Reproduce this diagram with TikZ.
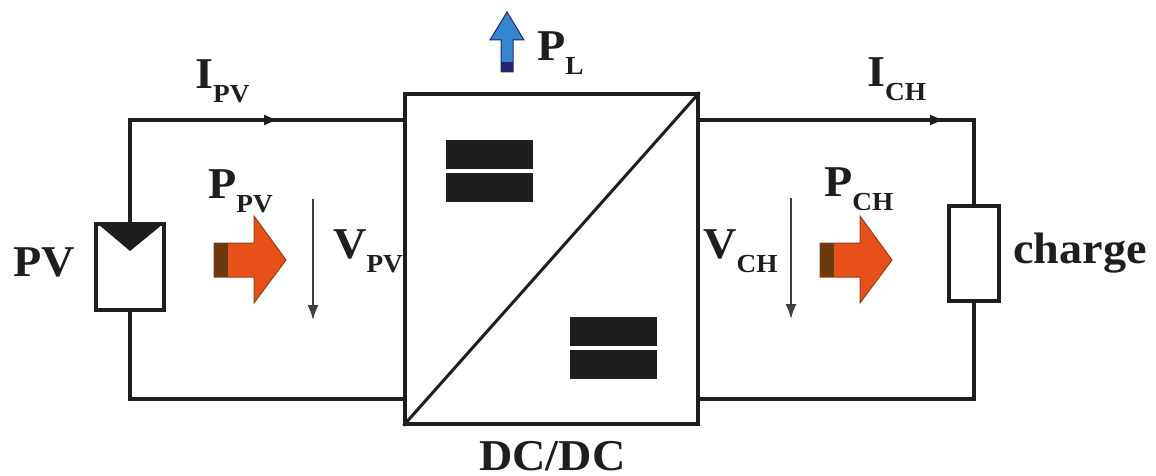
\documentclass[tikz,border=0pt]{standalone}
\usepackage{fontspec}
\usepackage{xcolor}
\setmainfont{Liberation Serif}[FakeStretch=1.05]
\usetikzlibrary{arrows.meta}
\definecolor{ink}{HTML}{1E1E1C}
\definecolor{hot}{HTML}{E8501A}
\definecolor{hotdark}{HTML}{6B3A10}
\definecolor{cool}{HTML}{3586CC}
\definecolor{cooldark}{HTML}{25256E}
\newcommand{\lab}[2]{#1\raisebox{-14pt}{\fontsize{26}{26}\selectfont #2}}
\tikzset{
  wire/.style={draw=ink,line width=3.1pt},
  box/.style={draw=ink,line width=3.1pt,fill=white,inner sep=0pt},
  txt/.style={anchor=base west,inner sep=0pt,text=ink,font=\fontsize{44}{44}\selectfont\bfseries},
  plate/.style={fill=ink,inner sep=0pt,minimum width=87pt},
  curtip/.style={-{Latex[length=16pt,width=11pt]}},
  voltip/.style={draw=ink!85,line width=1.6pt,-{Latex[length=15pt,width=11pt]}}
}
\begin{document}
\begin{tikzpicture}[x=1pt,y=-1pt]
\useasboundingbox (0,0) rectangle (1156,476);
\coordinate (in1) at (405,120);
\coordinate (in2) at (405,399);
\coordinate (out1) at (698,120);
\coordinate (out2) at (698,399);
\coordinate (ipv0) at (255,120);
\coordinate (ipv) at (280,120);
\coordinate (ich0) at (920,120);
\coordinate (ich) at (946,120);
\node[box,minimum width=68pt,minimum height=86pt](pv) at (130,267){};
\node[box,minimum width=50pt,minimum height=95pt](load) at (974,253.5){};
\draw[wire] (pv.north) |- (in1);
\draw[wire] (pv.south) |- (in2);
\draw[wire] (out1) -| (load.north);
\draw[wire] (load.south) |- (out2);
\draw[wire,curtip] (ipv0) -- (ipv);
\draw[wire,curtip] (ich0) -- (ich);
\node[box,minimum width=293pt,minimum height=330pt](dcdc) at (551.5,259){};
\draw[ink,line width=3pt] (dcdc.south west) -- (dcdc.north east);
\fill[ink] (98,224) -- (163,224) -- (130,251) -- cycle;
\node[plate,minimum height=29pt](p1) at (489,154.5){};
\node[plate,minimum height=29pt](p2) at (489,187){};
\node[plate,minimum height=29pt](p3) at (613.5,331.5){};
\node[plate,minimum height=29pt](p4) at (613.5,364.5){};
\coordinate (vpv1) at (313,199);
\coordinate (vpv2) at (313,320);
\coordinate (vch1) at (791,198);
\coordinate (vch2) at (791,319);
\draw[voltip] (vpv1) -- (vpv2);
\draw[voltip] (vch1) -- (vch2);
\foreach \dx in {0,606}{
  \begin{scope}[xshift=\dx pt]
  \draw[hotdark!70!hot,line width=1pt,fill=hot] (214,243) -- (254,243) -- (254,216) -- (286,260) -- (254,303) -- (254,277) -- (214,277) -- cycle;
  \fill[hotdark] (214,243) rectangle (228,277);
  \end{scope}
}
\draw[cooldark,line width=1pt,fill=cool] (501,72) -- (501,40) -- (490,40) -- (507,12) -- (524,40) -- (513,40) -- (513,72) -- cycle;
\fill[cooldark] (501,62) rectangle (513,72);
\node[txt](pvname) at (13,276){PV};
\node[txt](ipvname) at (195,89){\lab{I}{PV}};
\node[txt](ppvname) at (208,198){\lab{P}{PV}};
\node[txt](vpvname) at (333,258){\lab{V}{PV}};
\node[txt](plname) at (537,61){\lab{P}{L}};
\node[txt](ichname) at (867,87){\lab{I}{CH}};
\node[txt](pchname) at (824,196){\lab{P}{CH}};
\node[txt](vchname) at (703,258){\lab{V}{CH}};
\node[txt](chargename) at (1013,263){charge};
\node[txt](dcname) at (479,470){DC/DC};
\end{tikzpicture}
\end{document}
